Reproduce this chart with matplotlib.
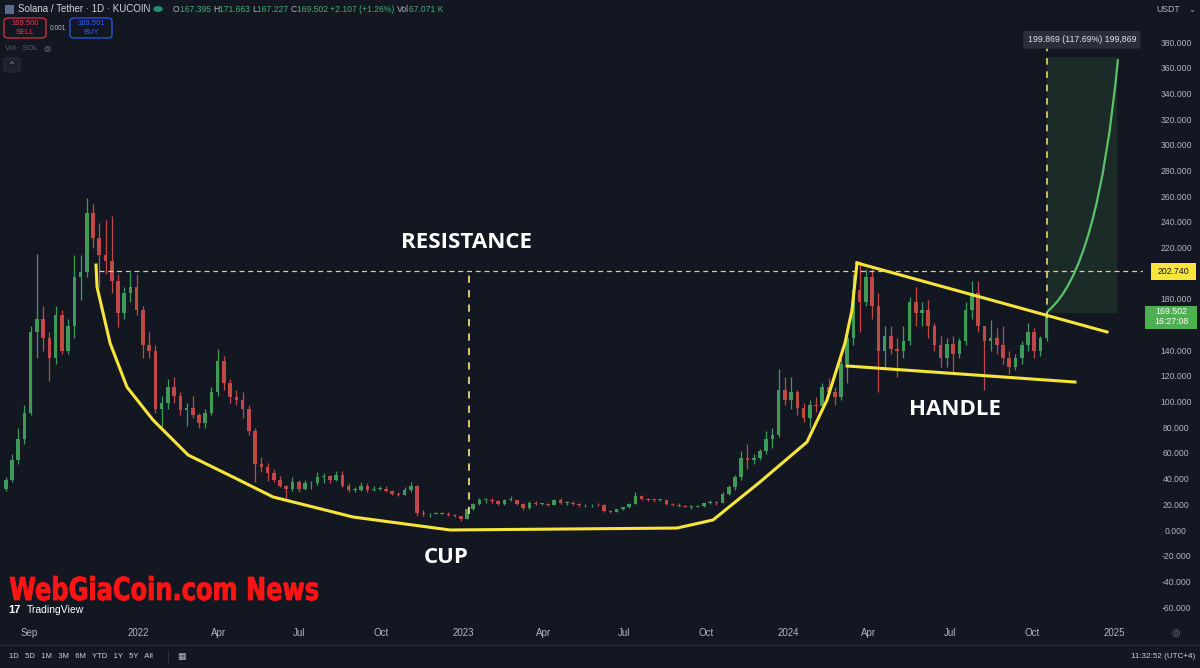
import matplotlib
matplotlib.use("Agg")
import matplotlib.pyplot as plt
import matplotlib.dates as mdates
from matplotlib.path import Path
from matplotlib.patches import PathPatch, Rectangle, FancyBboxPatch
from matplotlib.textpath import TextPath
from matplotlib.font_manager import FontProperties
from matplotlib.transforms import Affine2D
import numpy as np
import pandas as pd

# ---- weekly SOL/USDT candles (week starting 2021-08-02) ----
first_open = 33
closes_2021 = [40, 55, 72, 92, 155, 165, 150, 135, 168, 140, 160, 198, 202, 248, 228, 215, 210, 195, 170, 185, 190, 172]
highs_2021 = [42, 60, 80, 98, 160, 216, 175, 155, 175, 172, 165, 215, 215, 259, 255, 240, 242, 245, 200, 190, 202, 200]
lows_2021 = [31, 38, 52, 68, 90, 135, 140, 117, 130, 138, 138, 150, 180, 198, 220, 190, 200, 185, 159, 165, 178, 168]

closes_2022 = [145, 140, 95, 100, 112, 105, 94, 96, 90, 84, 92, 108, 132, 115, 104, 102, 95, 78, 52, 50, 45, 40,
               35, 33, 38, 33, 37, 37, 42, 43, 40, 44, 35, 32, 32, 35, 32, 33, 33, 31, 29, 28, 32, 35, 14, 13,
               13.5, 13.5, 13.5, 12.5, 11.5, 9.5]
highs_2022 = [175, 155, 145, 105, 118, 120, 108, 100, 105, 92, 95, 112, 142, 136, 118, 110, 108, 98, 80, 58, 53, 48,
              43, 36, 42, 40, 40, 39, 46, 45, 44, 47, 47, 37, 34, 38, 37, 35, 35, 35, 32, 30, 34, 38, 36, 16,
              14, 15, 14.5, 15, 13, 12]
lows_2022 = [135, 135, 92, 81, 95, 100, 90, 82, 88, 80, 80, 90, 105, 110, 100, 98, 88, 75, 38, 46, 39, 38,
             34, 26, 31, 30, 32, 33, 36, 37, 37, 39, 34, 30, 30, 31, 30, 31, 32, 30, 28, 27, 28, 30, 12, 12,
             11, 13, 13, 12, 11, 8]

closes_2023 = [17, 21, 24, 24, 23, 21, 24, 24, 21, 18, 22, 21, 21, 20.5, 24, 22, 22, 21, 20, 20, 20.5, 20,
               15.5, 15, 17, 18.5, 21, 27, 25, 24.5, 24, 24.5, 21, 20.5, 19.5, 19, 19, 19.5, 21.5, 22.5, 22, 29,
               34, 42, 57, 55, 57, 62, 72, 75, 110, 102]
highs_2023 = [18, 22, 26, 26, 26, 24, 25, 27, 24, 22, 23, 23, 22, 21.5, 25, 26, 23, 23, 22, 21, 21, 21.5,
              21, 16, 17.5, 19, 22, 30, 28, 26, 25, 25, 25, 22, 22, 20, 20, 20.5, 22, 24.5, 23, 30,
              36, 44, 62, 68, 60, 64, 78, 80, 126, 120]
lows_2023 = [9.5, 16, 20, 22, 22, 20, 20, 23, 20, 16, 17, 20, 20, 19.5, 20, 21, 20, 20, 19, 19, 19, 19.5,
             15, 14, 15, 16, 18, 21, 24, 23, 22.5, 23, 20, 19.5, 19, 18.5, 17.5, 18.5, 19, 21, 20.5, 21.5,
             28, 32, 40, 48, 52, 55, 60, 65, 73, 98]

closes_2024 = [108, 96, 88, 98, 97, 112, 108, 104, 130, 150, 188, 178, 198, 175, 140, 152, 142, 140, 148, 178,
               170, 172, 160, 145, 135, 146, 138, 148, 172, 185, 160, 148, 150, 145, 135, 128, 135, 145, 155, 140,
               150, 169.5]
highs_2024 = [120, 110, 100, 102, 104, 115, 119, 112, 135, 155, 200, 210, 204, 204, 185, 160, 160, 150, 160, 182,
              190, 178, 180, 162, 152, 150, 152, 150, 178, 195, 195, 160, 164, 158, 160, 140, 138, 148, 162, 158,
              152, 171.7]
lows_2024 = [95, 90, 85, 80, 93, 95, 105, 98, 102, 115, 145, 155, 175, 165, 108, 128, 138, 120, 135, 145,
             160, 160, 150, 140, 128, 128, 122, 135, 145, 165, 155, 110, 140, 138, 130, 122, 125, 130, 140, 135,
             136, 148]

# ---- drawings (days counted from 2022-01-01, prices in USDT) ----
cup_days = [-47.2, -46.0, -31.4, -12.4, 16.8, 56.2, 106.8, 151.7, 241.5, 350.4, 605.3, 645.8, 698.6, 751.3,
            773.8, 794.0, 801.9, 807.5]
cup_prices = [207.1, 190.0, 146.4, 112.1, 86.5, 59.2, 42.0, 26.5, 10.9, 0.8, 2.3, 8.6, 38.2, 69.3, 102.0,
              146.4, 172.1, 208.7]
handle_top_days = [807.5, 1088.3]
handle_top_prices = [208.7, 155.0]
handle_low_days = [796.3, 1052.3]
handle_low_prices = [128.5, 116.0]
resistance = 202.740
last_price = 169.502
target_move = 199.869
target_days = [1021.0, 1099.5]
curve_days = [1021.5, 1078.2, 1100.6]
curve_prices = [171.0, 203.2, 367.5]

time_ticks = ["2021-09-01", "2022-01-01", "2022-04-01", "2022-07-01", "2022-10-01", "2023-01-01", "2023-04-01",
              "2023-07-01", "2023-10-01", "2024-01-01", "2024-04-01", "2024-07-01", "2024-10-01", "2025-01-01"]
time_labels = ["Sep", "2022", "Apr", "Jul", "Oct", "2023", "Apr", "Jul", "Oct", "2024", "Apr", "Jul", "Oct", "2025"]
# 200 and 160 are covered by the price tags in the screenshot
price_ticks = [-60, -40, -20, 0, 20, 40, 60, 80, 100, 120, 140, 180, 220, 240, 260, 280, 300, 320, 340, 360, 380]

BG = "#131722"
UP = "#3f9a5a"
DOWN = "#c24848"
YEL = "#f7e53b"
AXT = "#b2b5be"
W, H = 1200, 668

plt.rcParams["font.family"] = ["Liberation Sans", "DejaVu Sans"]

closes = np.array(closes_2021 + closes_2022 + closes_2023 + closes_2024, dtype=float)
highs = np.array(highs_2021 + highs_2022 + highs_2023 + highs_2024, dtype=float)
lows = np.array(lows_2021 + lows_2022 + lows_2023 + lows_2024, dtype=float)
opens = np.concatenate([[first_open], closes[:-1]])
weeks = pd.date_range("2021-08-02", periods=len(closes), freq="7D")
xs = mdates.date2num(weeks.to_pydatetime()) + 3.5
D0 = mdates.date2num(pd.Timestamp("2022-01-01").to_pydatetime())

fig = plt.figure(figsize=(W / 100, H / 100), dpi=100, facecolor=BG)
ax = fig.add_axes([0, (H - 620) / H, 1143 / W, 620 / H])
ax.set_facecolor(BG)
for s in ax.spines.values():
    s.set_visible(False)

# candles
up = closes >= opens
body = np.maximum(np.abs(closes - opens), 0.6)
for m, col in ((up, UP), (~up, DOWN)):
    ax.vlines(xs[m], lows[m], highs[m], color=col, lw=0.9, zorder=2)
    ax.bar(xs[m], body[m], bottom=np.minimum(opens, closes)[m], width=4.0, color=col, lw=0, zorder=3)

ax.set_xlim(D0 - 155.0, D0 + 1128.7)
ax.set_ylim(-69.3, 413.5)

# resistance + dashed guides
ax.hlines(resistance, D0 - 44, D0 + 1128.7, color="#d8cf93", lw=0.9, linestyles=(0, (4, 3)), zorder=4)
ax.vlines(D0 + 371.7, 13, resistance, color="#e9d77c", lw=1.3, linestyles=(0, (4, 4)), zorder=4)
ax.vlines(D0 + target_days[0], 166, 381, color="#e9d45a", lw=1.2, linestyles=(0, (4, 4)), zorder=5)

# target box + projection curve
ax.add_patch(Rectangle((D0 + target_days[0], last_price), target_days[1] - target_days[0], target_move,
                       facecolor="#4caf50", alpha=0.14, lw=0, zorder=1))
cpath = Path([(D0 + d, p) for d, p in zip(curve_days, curve_prices)],
             [Path.MOVETO, Path.CURVE3, Path.CURVE3])
ax.add_patch(PathPatch(cpath, facecolor="none", edgecolor="#5cc26a", lw=1.6, zorder=6))

# cup and handle
ax.plot(D0 + np.array(cup_days), cup_prices, color=YEL, lw=2.2, solid_joinstyle="round", zorder=6)
ax.plot(D0 + np.array(handle_top_days), handle_top_prices, color=YEL, lw=2.2, zorder=6)
ax.plot(D0 + np.array(handle_low_days), handle_low_prices, color=YEL, lw=2.2, zorder=6)

big = dict(color="white", fontsize=16, fontweight="bold", family=["Open Sans", "DejaVu Sans"],
           ha="center", va="center", zorder=7)
ax.text(D0 + 368.4, 225, "RESISTANCE", **big)
ax.text(D0 + 345.9, -21, "CUP", **big)
ax.text(D0 + 917.6, 95, "HANDLE", **big)

# measure label
ax.text(D0 + 1060, 382.5, "%.3f (117.69%%) 199,869" % target_move, color="#e0e3eb", fontsize=6.3,
        ha="center", va="center", zorder=8,
        bbox=dict(boxstyle="round,pad=0.5,rounding_size=0.2", fc="#2a2e39", ec="none"))

# time axis
ax.set_xticks([mdates.date2num(pd.Timestamp(t).to_pydatetime()) for t in time_ticks])
ax.set_xticklabels(time_labels)
ax.set_yticks([])
ax.tick_params(axis="x", length=0, colors=AXT, labelsize=7, pad=6)


def fx(x):
    return x / W


def fy(y):
    return 1 - y / H


# price axis
for v in price_ticks:
    ypix = 531 - v * 1.2842
    fig.text(fx(1176), fy(ypix), "%.3f" % v, color=AXT, fontsize=6.2, ha="center", va="center")
fig.patches.append(Rectangle((fx(1151), fy(280)), 45 / W, 17 / H, transform=fig.transFigure,
                             facecolor=YEL, edgecolor="none"))
fig.text(fx(1173.5), fy(271.5), "%.3f" % resistance, color="#131722", fontsize=6.3, ha="center", va="center")
fig.patches.append(Rectangle((fx(1145), fy(329)), 52 / W, 23 / H, transform=fig.transFigure,
                             facecolor="#4caf50", edgecolor="none"))
fig.text(fx(1171), fy(312), "%.3f" % last_price, color="white", fontsize=6.3, ha="center", va="center")
fig.text(fx(1171), fy(322), "16:27:08", color="white", fontsize=6.3, ha="center", va="center")
fig.text(fx(1168), fy(10), "USDT", color=AXT, fontsize=6.3, ha="center", va="center")
fig.text(fx(1192), fy(9), "\u2304", color=AXT, fontsize=6, ha="center", va="center", family="DejaVu Sans")
fig.text(fx(1176), fy(633), "\u25ce", color="#787b86", fontsize=7, ha="center", va="center",
         family="DejaVu Sans")

# header
renderer = fig.canvas.get_renderer()


def runs(x, y, parts, size):
    for s, col in parts:
        t = fig.text(fx(x), fy(y), s, color=col, fontsize=size, ha="left", va="center")
        x += t.get_window_extent(renderer=renderer).width


fig.patches.append(Rectangle((fx(5), fy(14)), 9 / W, 9 / H, transform=fig.transFigure,
                             facecolor="#5a6b8c", edgecolor="none"))
fig.text(fx(18), fy(9), "Solana / Tether \u00b7 1D \u00b7 KUCOIN", color="#d1d4dc", fontsize=7, ha="left",
         va="center")
fig.patches.append(plt.Circle((fx(158), fy(9)), 4 / W, transform=fig.transFigure, color="#1f8f7a"))
G = "#3fae72"
L = "#b2b5be"
runs(173, 9, [("O", L), ("167.395 ", G), ("H", L), ("171.663 ", G), ("L", L), ("167.227 ", G), ("C", L),
              ("169.502 ", G), ("+2.107 (+1.26%) ", G), ("Vol", L), ("67.071 K", G)], 6.2)

for x0, col, p, lab in ((4, "#f23645", "169.500", "SELL"), (70, "#2962ff", "169.501", "BUY")):
    fig.patches.append(FancyBboxPatch((fx(x0), fy(38)), 42 / W, 20 / H, transform=fig.transFigure,
                                      boxstyle="round,pad=0,rounding_size=0.004", facecolor="none",
                                      edgecolor=col, lw=0.8))
    fig.text(fx(x0 + 21), fy(23.5), p, color=col, fontsize=5.5, ha="center", va="center")
    fig.text(fx(x0 + 21), fy(32.5), lab, color=col, fontsize=5.5, ha="center", va="center")
fig.text(fx(58), fy(28), "0.001", color=L, fontsize=4.8, ha="center", va="center")
fig.text(fx(5), fy(48), "Vol \u00b7 SOL", color="#5d606b", fontsize=5.5, ha="left", va="center")
fig.text(fx(47), fy(48), "\u25ce", color="#787b86", fontsize=6, ha="center", va="center", family="DejaVu Sans")
fig.patches.append(FancyBboxPatch((fx(4), fy(72)), 16 / W, 14 / H, transform=fig.transFigure,
                                  boxstyle="round,pad=0,rounding_size=0.003", facecolor="#1e222d",
                                  edgecolor="#2a2e39", lw=0.8))
fig.text(fx(12), fy(65), "^", color=L, fontsize=6, ha="center", va="center")

# watermark: condensed bold text, squeezed horizontally to match the narrow typeface
wm = TextPath((0, 0), "WebGiaCoin.com News", size=1, prop=FontProperties(family="DejaVu Sans", weight="bold"))
ext = wm.get_extents()
sx = 308 / ext.width
sy = 23 / 0.73
wm_tr = Affine2D().translate(-ext.x0, 0).scale(sx / W, sy / H).translate(fx(10), fy(600)) + fig.transFigure
fig.patches.append(PathPatch(wm, transform=wm_tr, facecolor="#ff1414", edgecolor="#ff1414", lw=0.6))

fig.text(fx(8), fy(610), "17", color="white", fontsize=8, fontweight="bold", ha="left", va="center")
fig.text(fx(27), fy(610), "TradingView", color="white", fontsize=7.5, ha="left", va="center")

# bottom toolbar
fig.add_artist(plt.Line2D([0, 1], [fy(645), fy(645)], transform=fig.transFigure, color="#2a2e39", lw=0.8))
fig.text(fx(9), fy(657), "1D   5D   1M   3M   6M   YTD   1Y   5Y   All", color="#d1d4dc", fontsize=5.5,
         ha="left", va="center")
fig.add_artist(plt.Line2D([fx(168), fx(168)], [fy(650), fy(663)], transform=fig.transFigure, color="#2a2e39",
                          lw=0.8))
fig.text(fx(181), fy(657), "\u25a6", color=L, fontsize=6.5, ha="center", va="center", family="DejaVu Sans")
fig.text(fx(1195), fy(657), "11:32:52 (UTC+4)", color="#d1d4dc", fontsize=5.8, ha="right", va="center")

fig.savefig("out.png", dpi=100, facecolor=BG)
